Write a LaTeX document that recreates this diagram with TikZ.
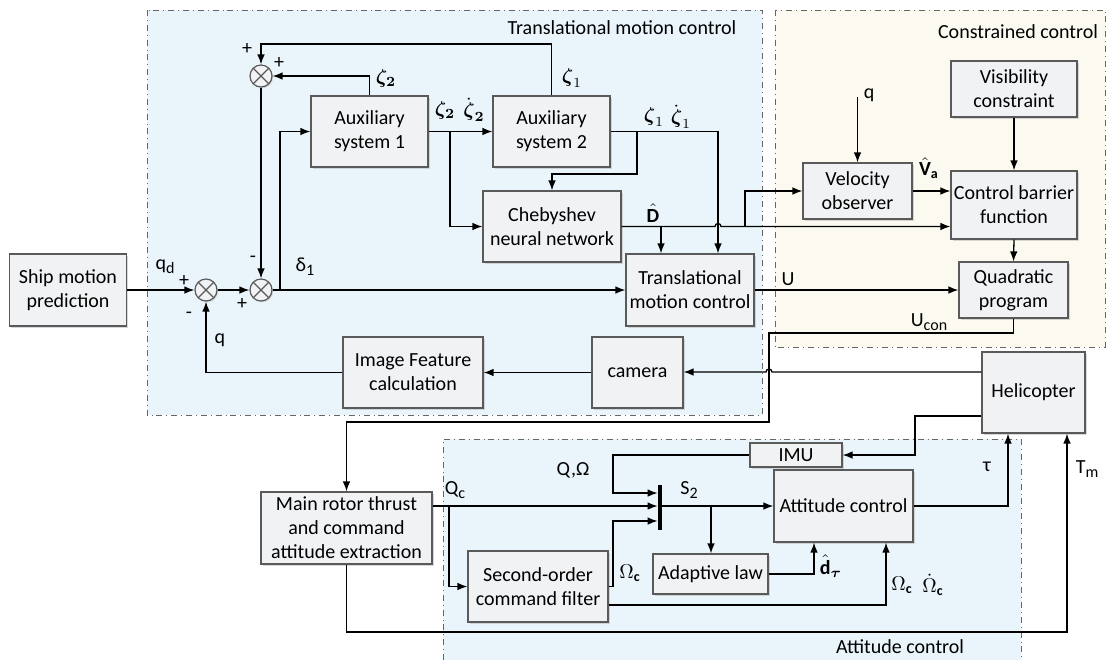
\documentclass[tikz,border=0pt]{standalone}
\usepackage{amsmath}
\usepackage{fontspec}
\setmainfont{Carlito}
\usepackage{tikz}
\usetikzlibrary{arrows.meta}
\usetikzlibrary{shadows}

\definecolor{tmcblue}{HTML}{EAF5FB}
\definecolor{conscream}{HTML}{FCFAF0}
\definecolor{blkfill}{HTML}{F1F2F4}
\definecolor{blkline}{HTML}{5A5A5A}

\newcommand{\lowsub}[1]{\raisebox{-0.45ex}{\footnotesize #1}}

\tikzset{
  blk/.style={draw=blkline, fill=blkfill, line width=0.6pt, inner sep=0pt, align=center,
    drop shadow={shadow xshift=0.8pt, shadow yshift=-0.8pt, fill=black!30}},
  sumj/.style={circle, draw=blkline, fill=blkfill, line width=0.6pt, minimum size=11pt, inner sep=0pt,
    drop shadow={shadow xshift=0.6pt, shadow yshift=-0.6pt, fill=black!30},
    path picture={\draw[blkline, line width=0.6pt]
      (path picture bounding box.north west) -- (path picture bounding box.south east)
      (path picture bounding box.north east) -- (path picture bounding box.south west);}},
  region/.style={draw=black!60, dash dot, line width=0.5pt},
  arr/.style={-{Latex[length=5pt,width=3.8pt]}, line width=0.65pt},
  lbl/.style={inner sep=0pt},
}

\begin{document}
\begin{tikzpicture}[x=0.5pt, y=-0.5pt]
  \useasboundingbox (0,0) rectangle (1107,660);
  % regions
  \fill[tmcblue] (147,10) rectangle (762,415);
  \draw[region] (147,10) rectangle (762,415);
  \fill[conscream] (775,10) rectangle (1105,347);
  \draw[region] (775,10) rectangle (1105,347);
  \fill[tmcblue] (443,439) rectangle (1021,660);
  \draw[region] (443,660) |- (1021,439) -- (1021,660);
  \node[lbl] (tmclab) at (622,28) {Translational motion control};
  \node[lbl] (conslab) at (1018,32) {Constrained control};
  \node[lbl] (attlab) at (900,647) {Attitude control};

  % blocks
  \node[blk, minimum width=58.5pt, minimum height=36pt] (ship) at (68,290) {Ship motion\\prediction};
  \node[blk, minimum width=70pt, minimum height=35.5pt] (feat) at (413,372.5) {Image Feature\\calculation};
  \node[blk, minimum width=45.5pt, minimum height=35.5pt] (cam) at (637.5,372.5) {camera};
  \node[blk, minimum width=64pt, minimum height=36pt] (tmc) at (690,290) {Translational\\motion control};
  \node[blk, minimum width=58.5pt, minimum height=35.5pt] (aux1) at (369.5,131.5) {Auxiliary\\system 1};
  \node[blk, minimum width=58.5pt, minimum height=35.5pt] (aux2) at (551.5,131.5) {Auxiliary\\system 2};
  \node[blk, minimum width=69pt, minimum height=35.5pt] (cheb) at (552,226.5) {Chebyshev\\neural network};
  \node[blk, minimum width=54.5pt, minimum height=28pt] (velo) at (857.5,191) {Velocity\\observer};
  \node[blk, minimum width=63pt, minimum height=28pt] (vis) at (1014,89) {Visibility\\constraint};
  \node[blk, minimum width=63pt, minimum height=34pt] (cbf) at (1014,205) {Control barrier\\function};
  \node[blk, minimum width=54.5pt, minimum height=28pt] (qp) at (1013.5,290) {Quadratic\\program};
  \node[blk, minimum width=51.5pt, minimum height=40.5pt] (heli) at (1033.5,392.5) {Helicopter};
  \node[blk, minimum width=46pt, minimum height=12pt] (imu) at (796,455) {IMU};
  \node[blk, minimum width=69.5pt, minimum height=36pt] (att) at (843.5,506) {Attitude control};
  \node[blk, minimum width=57.5pt, minimum height=20pt] (adap) at (710.5,574) {Adaptive law};
  \node[blk, minimum width=70pt, minimum height=35.5pt] (filt) at (538,586.5) {Second-order\\command filter};
  \node[blk, minimum width=85.5pt, minimum height=36pt] (rotor) at (346.5,528) {Main rotor thrust\\and command\\attitude extraction};

  \node[sumj] (s1) at (206,290) {};
  \node[sumj] (s2) at (261,290) {};
  \node[sumj] (s3) at (261,76) {};
  \node[fill=black, minimum width=2pt, minimum height=22.5pt, inner sep=0pt] (sw) at (660,507.5) {};

  \coordinate (d1) at (280,290);
  \coordinate (b1) at (450,131.5);
  \coordinate (b2) at (637,131.5);
  \coordinate (b3) at (661,226.5);
  \coordinate (b4) at (745,226.5);
  \coordinate (qin) at (857.5,97);
  \coordinate (b5) at (449,506);
  \coordinate (b6) at (711,506);

  % translational loop
  \draw[arr] (ship.east) -- (s1.west);
  \draw[arr] (feat.west) -| (s1.south);
  \draw[arr] (s1.east) -- (s2.west);
  \draw[arr] (s3.south) -- (s2.north);
  \draw[arr] (s2.east) -- (tmc.west);
  \draw[arr] (d1) |- (aux1.west);
  \draw[arr] (aux1.north) |- (s3.east);
  \draw[arr] (aux2.north) -- (aux2.north |- 0,44) -| (s3.north);
  \draw[arr] (aux1.east) -- (aux2.west);
  \draw[arr] (b1) |- (cheb.west);
  \draw[arr] (aux2.east) -| (tmc.north -| 718,0);
  \draw[arr] (b2) -- ++(0,42.5) -| (cheb.north);
  \draw[arr] (cheb.east) -- (715,226.5) arc[start angle=180, end angle=360, radius=3] -- (cbf.west |- cheb.east);
  \draw[arr] (b3) -- (tmc.north -| b3);
  \draw[arr] (b4) |- (velo.west);

  % constrained control
  \draw[arr] (qin) -- (velo.north);
  \draw[arr] (velo.east) -- (cbf.west |- velo.east);
  \draw[arr] (vis.south) -- (cbf.north);
  \draw[arr] (cbf.south) -- (qp.north);
  \draw[arr] (tmc.east) -- (qp.west);
  \draw[arr] (qp.south) |- (769,333) |- (rotor.north |- 0,422) -- (rotor.north);

  % feedback
  \draw[arr] (heli.west |- 0,372) -- (772,372) arc[start angle=0, end angle=-180, radius=3] -- (cam.east |- 0,372);
  \draw[arr] (cam.west) -- (feat.east);
  \draw[arr] (heli.west |- 0,416) -- (915,416) |- (imu.east);

  % attitude loop
  \draw[arr] (imu.west) -- (613,455) |- (sw.west |- 0,493);
  \draw[arr] (rotor.east |- 0,506) -- (sw.west |- 0,506);
  \draw[arr] (b5) |- (filt.west);
  \draw[arr] (filt.east) -- (613,586.5) |- (sw.west |- 0,521);
  \draw[arr] (filt.east |- 0,605) -| (att.south -| 886,0);
  \draw[arr] (sw.east |- 0,506) -- (att.west);
  \draw[arr] (b6) -- (adap.north -| b6);
  \draw[arr] (adap.east) -| (att.south -| 814,0);
  \draw[arr] (att.east) -| (heli.south -| 1008,0);
  \draw[arr] (rotor.south) -- (rotor.south |- 0,632) -| (heli.south -| 1067,0);

  % labels
  \node[lbl] (lqd) at (165,267) {q\lowsub{d}};
  \node[lbl] (lp1) at (184,281) {+};
  \node[lbl] (lm1) at (189,315) {-};
  \node[lbl] (lq1) at (220,340) {q};
  \node[lbl] (lp2) at (242,304) {+};
  \node[lbl] (lm2) at (253,259) {-};
  \node[lbl] (ldel) at (305,267) {δ\lowsub{1}};
  \node[lbl] (lp3) at (247,49) {+};
  \node[lbl] (lp4) at (279,63) {+};
  \node[lbl] (lz2) at (386,78) {$\boldsymbol{\zeta_2}$};
  \node[lbl] (lz1) at (572,78) {$\boldsymbol{\zeta}_1$};
  \node[lbl] (lz2a) at (445,110) {$\boldsymbol{\zeta_2}$};
  \node[lbl] (lz2b) at (474,110) {$\dot{\boldsymbol{\zeta}}_{\boldsymbol{2}}$};
  \node[lbl] (lz1a) at (654,117) {$\boldsymbol{\zeta}_1$};
  \node[lbl] (lz1b) at (681,117) {$\dot{\boldsymbol{\zeta}}_1$};
  \node[lbl] (ldh) at (653,213) {$\hat{\mathbf{D}}$};
  \node[lbl] (lva) at (929,168) {$\hat{\mathbf{V}}_{\mathbf{a}}$};
  \node[lbl] (lq2) at (869,95) {q};
  \node[lbl] (lu) at (788,279) {U};
  \node[lbl] (lucon) at (929,322) {U\lowsub{con}};
  \node[lbl] (lqc) at (455,490) {Q\lowsub{c}};
  \node[lbl] (lqo) at (573,470) {Q,Ω};
  \node[lbl] (loc) at (630,573) {$\Omega_{\mathbf{c}}$};
  \node[lbl] (ls2) at (689,490) {S\lowsub{2}};
  \node[lbl] (ldt) at (831,566) {$\hat{\mathbf{d}}_{\boldsymbol{\tau}}$};
  \node[lbl] (loca) at (902,585) {$\Omega_{\mathbf{c}}$};
  \node[lbl] (locb) at (933,585) {$\dot{\Omega}_{\mathbf{c}}$};
  \node[lbl] (ltau) at (987,467) {τ};
  \node[lbl] (ltm) at (1087,469) {T\lowsub{m}};
\end{tikzpicture}
\end{document}
